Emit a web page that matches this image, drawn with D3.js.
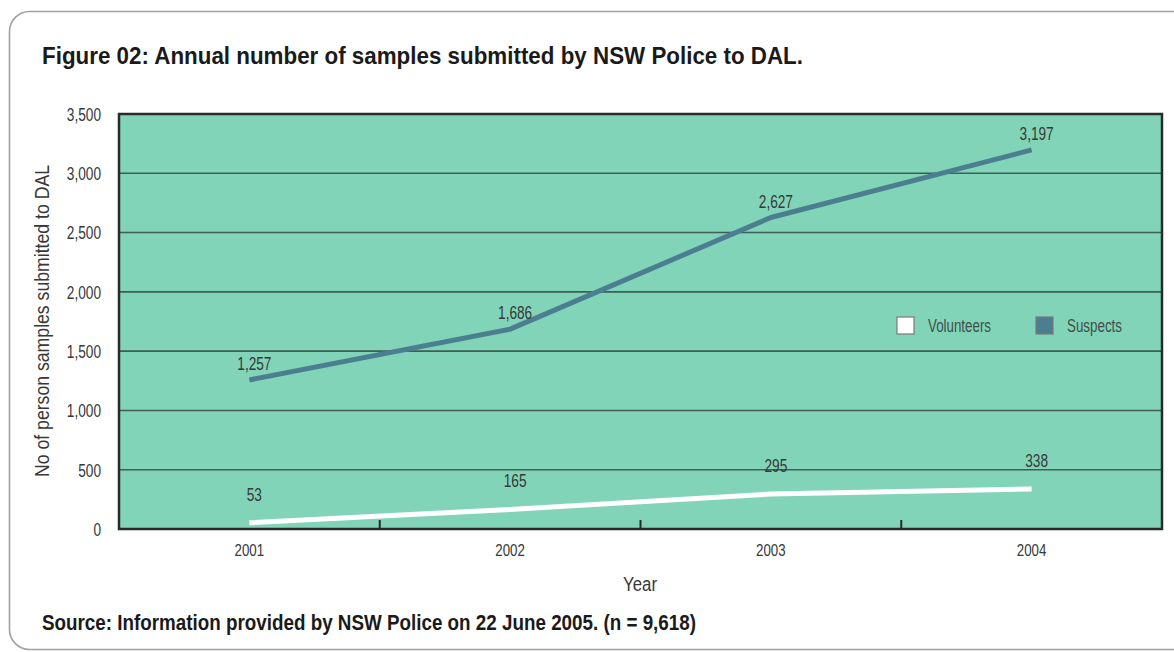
<!DOCTYPE html>
<html>
<head>
<meta charset="utf-8">
<script src="https://cdn.jsdelivr.net/npm/d3@7"></script>
<style>
  html, body { margin: 0; padding: 0; background: #ffffff; }
  svg { display: block; }
  text { font-family: "Liberation Sans", Arial, sans-serif; }
</style>
</head>
<body>
<svg id="chart" width="1174" height="652"></svg>
<script>
// ---- data ----
const years = ["2001", "2002", "2003", "2004"];
const suspects = [1257, 1686, 2627, 3197];
const volunteers = [53, 165, 295, 338];
const yTicks = [0, 500, 1000, 1500, 2000, 2500, 3000, 3500];
const seriesNames = ["Volunteers", "Suspects"];

const titleText = "Figure 02: Annual number of samples submitted by NSW Police to DAL.";
const sourceText = "Source: Information provided by NSW Police on 22 June 2005. (n = 9,618)";
const yTitle = "No of person samples submitted to DAL";
const xTitle = "Year";

// ---- layout ----
const plot = { left: 119, right: 1162, top: 114, bottom: 529 };
const colors = { fill: "#81d4b7", grid: "#3f5e55", suspects: "#4b7f8f", volunteers: "#ffffff", border: "#2a2a2a", text: "#383838" };
const SQUEEZE = 0.8;

const svg = d3.select("#chart");

// compress text horizontally to mimic a condensed face
function condense(sel, ratio) {
  sel.each(function () {
    const w = this.getComputedTextLength();
    d3.select(this).attr("textLength", w * (ratio || SQUEEZE)).attr("lengthAdjust", "spacingAndGlyphs");
  });
}
function fitWidth(sel, width) {
  sel.attr("textLength", width).attr("lengthAdjust", "spacingAndGlyphs");
}

// outer frame
svg.append("rect")
  .attr("x", 9.5).attr("y", 11.5)
  .attr("width", 1200).attr("height", 638)
  .attr("rx", 20).attr("ry", 20)
  .attr("fill", "none").attr("stroke", "#a0a0a0").attr("stroke-width", 1.6);

// title
svg.append("text")
  .attr("x", 42).attr("y", 64)
  .attr("font-size", 24).attr("font-weight", "bold").attr("fill", "#1a1a1a")
  .text(titleText).call(fitWidth, 761);

const x = d3.scaleBand().domain(years).range([plot.left, plot.right]).padding(0);
const y = d3.scaleLinear().domain([0, 3500]).range([plot.bottom, plot.top]);

// plot background
svg.append("rect")
  .attr("x", plot.left).attr("y", plot.top)
  .attr("width", plot.right - plot.left).attr("height", plot.bottom - plot.top)
  .attr("fill", colors.fill);

// gridlines
svg.append("g")
  .selectAll("line")
  .data(yTicks.filter(t => t > 0 && t < 3500))
  .join("line")
  .attr("x1", plot.left).attr("x2", plot.right)
  .attr("y1", d => y(d)).attr("y2", d => y(d))
  .attr("stroke", colors.grid).attr("stroke-width", 1.6);

// y axis labels
const yAxis = d3.axisLeft(y).tickValues(yTicks).tickFormat(d3.format(",")).tickSize(0).tickPadding(18);
const gy = svg.append("g").attr("transform", `translate(${plot.left},0)`).call(yAxis);
gy.select(".domain").remove();
gy.selectAll("text").attr("font-size", 17.5).attr("fill", colors.text)
  .attr("font-family", "\"Liberation Sans\", Arial, sans-serif").attr("dy", "0.36em")
  .call(condense, 0.78);

// x axis labels
const xAxis = d3.axisBottom(x).tickSize(0).tickPadding(15);
const gx = svg.append("g").attr("transform", `translate(0,${plot.bottom})`).call(xAxis);
gx.select(".domain").remove();
gx.selectAll("text").attr("font-size", 17).attr("fill", colors.text)
  .attr("font-family", "\"Liberation Sans\", Arial, sans-serif")
  .call(condense, 0.78);

// inner category boundary ticks
svg.append("g")
  .selectAll("line")
  .data(years.slice(1))
  .join("line")
  .attr("x1", d => x(d)).attr("x2", d => x(d))
  .attr("y1", plot.bottom).attr("y2", plot.bottom - 9)
  .attr("stroke", colors.border).attr("stroke-width", 2);

// lines
const line = d3.line().x((d, i) => x(years[i]) + x.bandwidth() / 2).y(d => y(d));
svg.append("path").datum(volunteers)
  .attr("d", line).attr("fill", "none")
  .attr("stroke", colors.volunteers).attr("stroke-width", 5).attr("stroke-linejoin", "round");
svg.append("path").datum(suspects)
  .attr("d", line).attr("fill", "none")
  .attr("stroke", colors.suspects).attr("stroke-width", 5).attr("stroke-linejoin", "round");

// value labels
const fmt = d3.format(",");
svg.append("g").selectAll("text").data(suspects).join("text")
  .attr("x", (d, i) => x(years[i]) + x.bandwidth() / 2 + 5)
  .attr("y", d => y(d) - 10)
  .attr("text-anchor", "middle").attr("font-size", 17.5).attr("fill", colors.text)
  .text(d => fmt(d)).call(condense, 0.78);
svg.append("g").selectAll("text").data(volunteers).join("text")
  .attr("x", (d, i) => x(years[i]) + x.bandwidth() / 2 + 5)
  .attr("y", d => y(d) - 22)
  .attr("text-anchor", "middle").attr("font-size", 17.5).attr("fill", colors.text)
  .text(d => fmt(d)).call(condense, 0.78);

// plot border
svg.append("rect")
  .attr("x", plot.left).attr("y", plot.top)
  .attr("width", plot.right - plot.left).attr("height", plot.bottom - plot.top)
  .attr("fill", "none").attr("stroke", colors.border).attr("stroke-width", 2.5);

// legend
const legendItems = [
  { name: seriesNames[0], color: colors.volunteers, x: 897, w: 63 },
  { name: seriesNames[1], color: colors.suspects, x: 1036, w: 55 }
];
const lg = svg.append("g").selectAll("g").data(legendItems).join("g")
  .attr("transform", d => `translate(${d.x},317)`);
lg.append("rect").attr("width", 17).attr("height", 17)
  .attr("fill", d => d.color).attr("stroke", "#7a7a7a").attr("stroke-width", 1.2);
lg.append("text").attr("x", 31).attr("y", 15)
  .attr("font-size", 17.5).attr("fill", "#3f4f4a")
  .text(d => d.name)
  .each(function (d) { d3.select(this).attr("textLength", d.w).attr("lengthAdjust", "spacingAndGlyphs"); });

// y title
svg.append("text")
  .attr("transform", `translate(49,${(165 + 477) / 2}) rotate(-90)`)
  .attr("text-anchor", "middle").attr("font-size", 20.5).attr("fill", colors.text)
  .text(yTitle).call(fitWidth, 312);

// x title
svg.append("text")
  .attr("x", 640).attr("y", 591)
  .attr("text-anchor", "middle").attr("font-size", 20.5).attr("fill", colors.text)
  .text(xTitle).call(fitWidth, 34);

// source
svg.append("text")
  .attr("x", 42).attr("y", 630)
  .attr("font-size", 22.5).attr("font-weight", "bold").attr("fill", "#1a1a1a")
  .text(sourceText).call(fitWidth, 654);
</script>
</body>
</html>
